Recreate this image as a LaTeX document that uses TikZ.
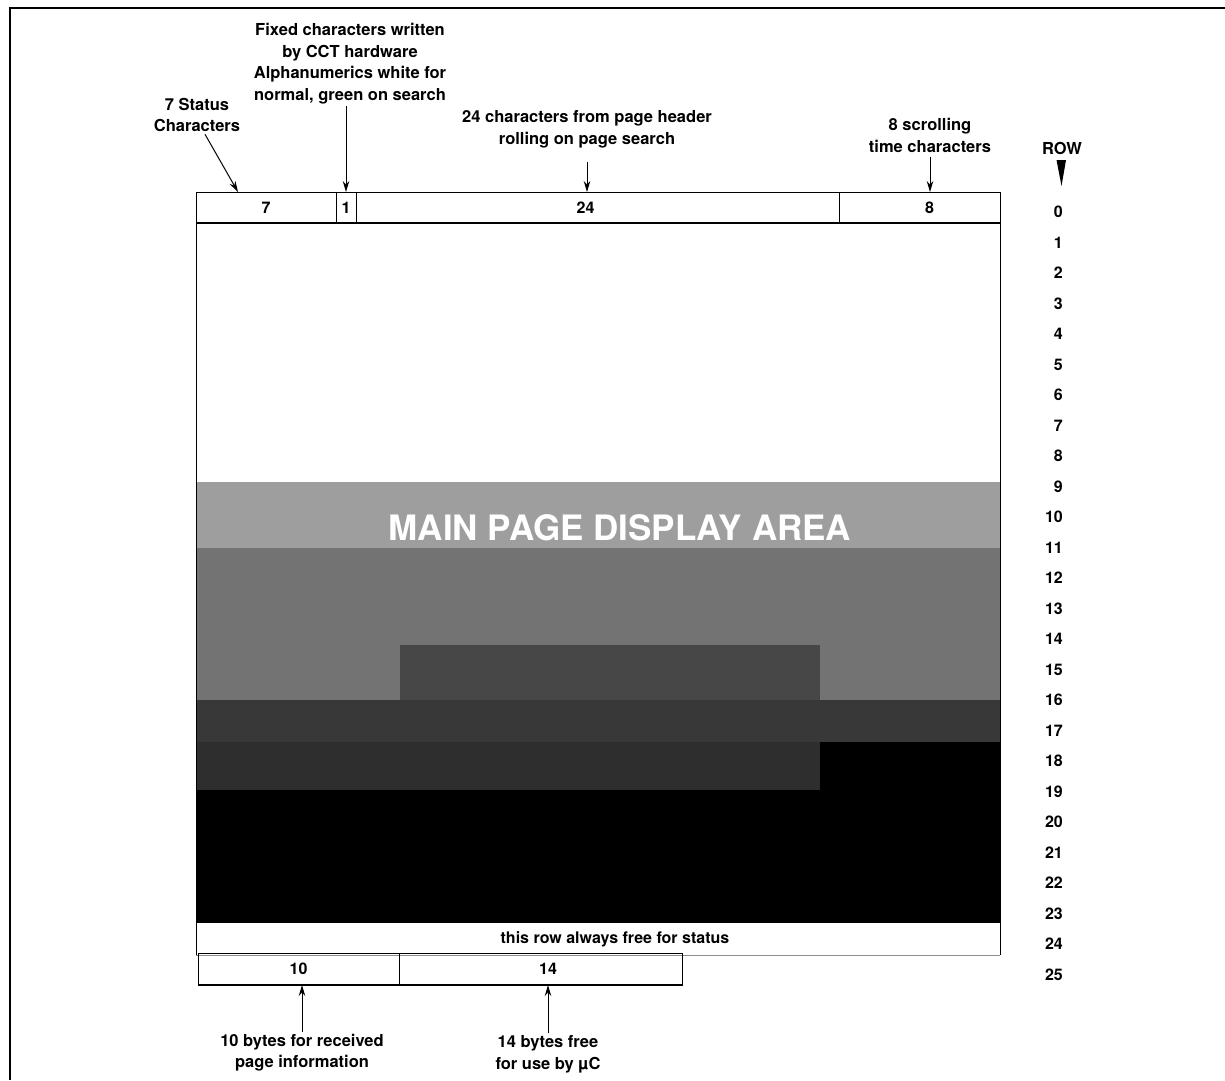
\documentclass[tikz,border=0pt]{standalone}
\usepackage{fontspec}
\setmainfont{TeX Gyre Heros}
\usetikzlibrary{arrows.meta,positioning,calc}

\begin{document}
\begin{tikzpicture}[
    x=1pt, y=-1pt,
    node distance=0pt,
    lbl/.style={font=\bfseries\fontsize{16.5}{21.7}\selectfont, align=center, inner sep=1pt},
    cell/.style={draw, line width=0.8pt, minimum height=31pt, inner sep=0pt, outer sep=0pt,
                 font=\bfseries\fontsize{16}{18}\selectfont},
    rownum/.style={font=\bfseries\fontsize{16}{18}\selectfont, anchor=east, inner sep=0pt},
    arrow/.style={-{Stealth[length=11pt,width=6.5pt]}, line width=1pt}
  ]
    \useasboundingbox (0,0) rectangle (1225,1080);
    % outer frame
    \draw[line width=2.6pt] (1225,8) -- (10,8) -- (10,1080);

    % shaded bands of the display area
    \fill[black!38] (196,482) rectangle (1000,548);
    \fill[black!55] (196,548) rectangle (1000,645);
    \fill[black!55] (196,645) rectangle (400,700);
    \fill[black!72] (400,645) rectangle (820,700);
    \fill[black!55] (820,645) rectangle (1000,700);
    \fill[black!78] (196,700) rectangle (1000,742);
    \fill[black!82] (196,742) rectangle (820,790);
    \fill[black] (820,742) rectangle (1000,790);
    \fill[black] (196,790) rectangle (1000,922);

    % row 0
    \node[cell, anchor=north west, minimum width=140pt] (c7) at (196,192) {7};
    \node[cell, minimum width=20pt, right=of c7]  (c1)  {1};
    \node[cell, minimum width=483pt, right=of c1] (c24) {24\hspace*{24pt}};
    \node[cell, minimum width=161pt, right=of c24] (c8) {\hspace*{20pt}8};
    \draw[line width=1.8pt] (c7.south west) -- (c8.south east);

    % main area
    \node[draw, line width=1pt, anchor=north west, minimum width=804pt, minimum height=699pt,
          inner sep=0pt, outer sep=0pt] (main) at (c7.south west) {};
    \node[text=white, font=\bfseries\fontsize{35}{35}\selectfont] (title) at (620,528) {MAIN PAGE DISPLAY AREA};

    % row 24
    \node[minimum width=804pt, minimum height=31pt, inner sep=0pt, outer sep=0pt,
          anchor=north west, font=\bfseries\fontsize{16}{18}\selectfont] (status) at ([yshift=-2pt]main.south west)
          {\hspace*{34pt}this row always free for status};
    \draw[line width=0.8pt] (main.south west) -- (main.south west |- status.south);
    \draw[line width=0.8pt] (main.south east) -- (main.south east |- status.south);
    \draw[black!45, line width=0.5pt] (main.south west |- status.south) -- (main.south east |- status.south);

    % row 25
    \node[cell, anchor=north west, minimum width=201pt, minimum height=32pt] (b10) at (198,953) {10};
    \node[cell, minimum width=283pt, minimum height=32pt, right=of b10] (b14) {\hspace*{15pt}14};
    \draw[line width=1.6pt] (b10.south west) -- (b14.south east);

    % row numbers
    \node[lbl] (rowlbl) at (1062,148) {ROW};
    \fill (1056.5,160) -- (1066,160) -- (1061.5,186) -- cycle;
    \foreach \r in {0,...,25}
      \node[rownum] (r\r) at (1063,{212+30.5*\r}) {\r};

    % labels above
    \node[lbl] (statuslbl) at (197,115) {7 Status\\Characters};
    \node[lbl] (fixedlbl)  at (350,63.5) {Fixed characters written\\by CCT hardware\\Alphanumerics white for\\normal, green on search};
    \node[lbl] (hdrlbl)    at (587,129) {24 characters from page header\\rolling on page search};
    \node[lbl] (timelbl)   at (930,135.5) {8 scrolling\\time characters};

    \coordinate (t7) at ([xshift=-28pt]c7.north);
    \draw[arrow] ([xshift=8pt,yshift=-1pt]statuslbl.south) -- (t7);
    \draw[arrow] ([yshift=-1pt]fixedlbl.south -| c1.north) -- (c1.north);
    \draw[arrow] ([yshift=-13pt]hdrlbl.south) -- (hdrlbl.south |- c24.north);
    \draw[arrow] ([yshift=-3pt]timelbl.south) -- (timelbl.south |- c8.north);

    % labels below
    \node[lbl] (rxlbl)   at (302,1052.5) {10 bytes for received\\page information};
    \node[lbl] (freelbl) at (548,1054) {14 bytes free\\for use by µC};
    \draw[arrow] ([yshift=1pt]rxlbl.north) -- (rxlbl.north |- b10.south);
    \draw[arrow] ([yshift=1pt]freelbl.north) -- (freelbl.north |- b14.south);
  \end{tikzpicture}
\end{document}
